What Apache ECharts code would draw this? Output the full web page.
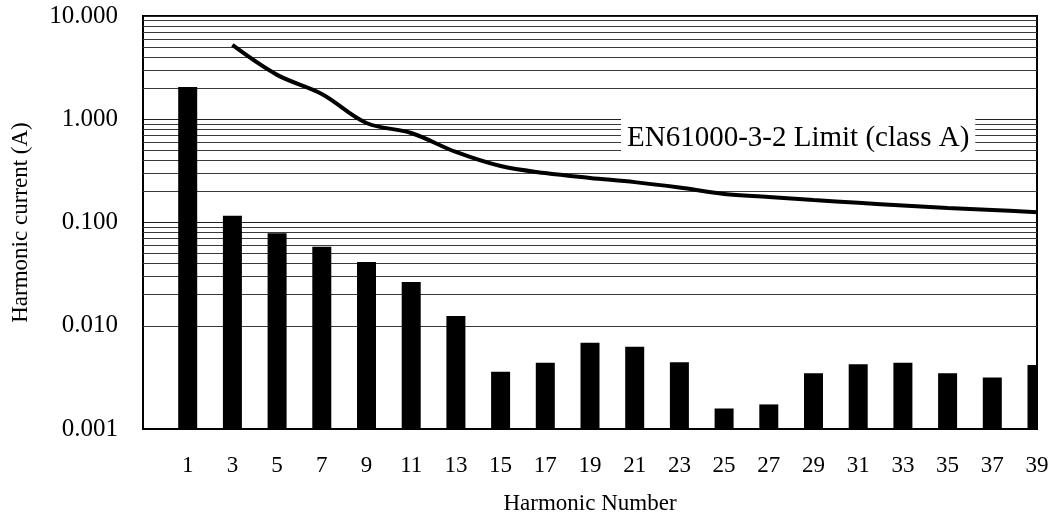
<!DOCTYPE html>
<html>
<head>
<meta charset="utf-8">
<script src="https://cdn.jsdelivr.net/npm/echarts@6/dist/echarts.min.js"></script>
<style>
html,body{margin:0;padding:0;background:#fff;}
#chart{width:1053px;height:523px;}
</style>
</head>
<body>
<div id="chart"></div>
<script>
// Harmonic numbers
var harmonics = [1,3,5,7,9,11,13,15,17,19,21,23,25,27,29,31,33,35,37,39];
// Measured harmonic current (A)
var measured = [2.05,0.116,0.0785,0.0583,0.0414,0.0265,0.0124,0.00359,0.00438,0.00685,0.00627,0.00442,0.00158,0.00173,0.00346,0.00423,0.00438,0.00346,0.00316,0.00417];
// EN61000-3-2 class A limit line (from harmonic 3)
var limitHarmonics = [3,5,7,9,11,13,15,17,19,21,23,25,27,29,31,33,35,37,39];
var limitValues = [5.24,2.69,1.76,0.92,0.736,0.482,0.352,0.301,0.27,0.246,0.218,0.189,0.177,0.165,0.155,0.146,0.138,0.132,0.126];
// Minor log grid lines
var minorGrid = [0.002,0.003,0.004,0.005,0.006,0.007,0.008,0.009,
                 0.02,0.03,0.04,0.05,0.06,0.07,0.08,0.09,
                 0.2,0.3,0.4,0.5,0.6,0.7,0.8,0.9,
                 2,3,4,5,6,7,8,9];
var yMin = 0.001, yMax = 10;
var xMin = -1, xMax = 39;
var limitLabel = 'EN61000-3-2 Limit (class A)';

var font = 'Liberation Serif';
var chart = echarts.init(document.getElementById('chart'), null, {renderer:'canvas'});

var barData = harmonics.map(function(h,i){ return [h, measured[i]]; });
var lineData = limitHarmonics.map(function(h,i){ return [h, limitValues[i]]; });
var BAR_W = 19;

function renderBar(params, api){
  var x = api.value(0), v = api.value(1);
  var top = api.coord([x, v]);
  var bottom = api.coord([x, yMin]);
  var rect = {x: top[0] - BAR_W/2, y: top[1], width: BAR_W, height: bottom[1] - top[1]};
  var cs = params.coordSys;
  rect = echarts.graphic.clipRectByRect(rect, {x: cs.x, y: cs.y, width: cs.width, height: cs.height});
  if (!rect) return;
  return {type:'rect', shape: rect, style: {fill:'#000'}};
}

chart.setOption({
  animation: false,
  backgroundColor: '#fff',
  grid: {left:143, right:16, top:16, bottom:94, show:true, borderColor:'#000', borderWidth:2, backgroundColor:'transparent'},
  xAxis: {
    type: 'value', min: xMin, max: xMax,
    name: 'Harmonic Number', nameLocation: 'middle', nameGap: 63,
    nameTextStyle: {fontFamily: font, fontSize: 23, color:'#000'},
    axisLine: {show:true, onZero:false, lineStyle:{color:'#000', width:2}},
    axisTick: {show:false},
    splitLine: {show:false},
    axisLabel: {customValues: harmonics, fontFamily: font, fontSize: 23, color:'#000', margin: 25}
  },
  yAxis: {
    type: 'log', logBase: 10, min: yMin, max: yMax,
    name: 'Harmonic current (A)', nameLocation: 'middle', nameGap: 111, nameRotate: 90,
    nameTextStyle: {fontFamily: font, fontSize: 23, color:'#000'},
    axisLine: {show:true, onZero:false, lineStyle:{color:'#000', width:2}},
    axisTick: {show:false},
    splitLine: {show:true, lineStyle:{color:'#222', width:1}},
    axisLabel: {fontFamily: font, fontSize: 25, color:'#000', margin: 25,
      formatter: function(v){ return Number(v).toFixed(3); }}
  },
  series: [
    {
      type: 'line', data: [], symbol:'none', z: 1,
      markLine: {
        silent: true, symbol: ['none','none'], z: 1, animation:false,
        label: {show:false},
        lineStyle: {color:'#3a3a3a', width:1, type:'solid'},
        emphasis: {disabled:true},
        data: minorGrid.map(function(v){ return {yAxis: v}; })
      }
    },
    {
      type: 'custom', data: barData, renderItem: renderBar, z: 3,
      encode: {x: 0, y: 1}
    },
    {
      type: 'line', data: lineData, smooth: 0.35, showSymbol: false, symbol:'none', z: 4,
      lineStyle: {color:'#000', width:4},
      itemStyle: {color:'#000'}
    }
  ],
  graphic: [{
    type: 'text', left: 621, top: 119, z: 100,
    style: {
      text: limitLabel, fill: '#000', font: '29px "Liberation Serif"',
      backgroundColor: '#fff', padding: [5, 6, 6, 6]
    }
  }]
});
</script>
</body>
</html>
